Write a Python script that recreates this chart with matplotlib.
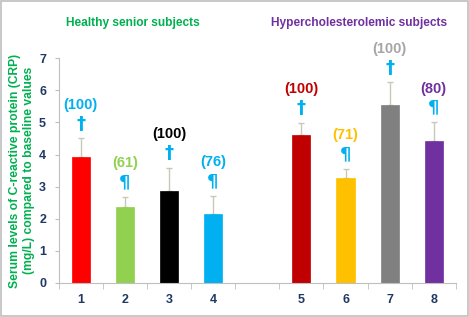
import matplotlib
matplotlib.use("Agg")
import matplotlib.pyplot as plt
from matplotlib.patches import Rectangle
import numpy as np

plt.rcParams['font.family'] = ['Liberation Sans', 'DejaVu Sans']

categories = ["1", "2", "3", "4", "5", "6", "7", "8"]
positions = [0, 1, 2, 3, 5, 6, 7, 8]
values = [3.93, 2.37, 2.87, 2.16, 4.62, 3.28, 5.53, 4.41]
errors = [0.57, 0.31, 0.72, 0.55, 0.37, 0.28, 0.72, 0.60]
bar_colors = ["#FF0000", "#92D050", "#000000", "#00B0F0",
              "#C00000", "#FFC000", "#808080", "#7030A0"]
pct_labels = ["(100)", "(61)", "(100)", "(76)", "(100)", "(71)", "(100)", "(80)"]
pct_colors = ["#00B0F0", "#92D050", "#000000", "#00B0F0",
              "#C00000", "#FFC000", "#A6A6A6", "#7030A0"]
symbols = ["†", "¶", "†", "¶", "†", "¶", "†", "¶"]
group_titles = ["Healthy senior subjects", "Hypercholesterolemic subjects"]

fig = plt.figure(figsize=(4.69, 3.17), dpi=100)
ax = fig.add_axes([0.125, 0.108, 0.847, 0.708])

ax.bar(positions, values, width=0.41, color=bar_colors,
       edgecolor=bar_colors, linewidth=0.5, zorder=2)
ax.errorbar(positions, values, yerr=[np.zeros(len(values)), errors], fmt='none',
            ecolor="#C8C8B8", elinewidth=1.0, capsize=2.5, capthick=1.0, zorder=1)

for x, v, e, lab, lc, s in zip(positions, values, errors, pct_labels, pct_colors, symbols):
    top = v + e
    ax.annotate(s, (x, top), xytext=(0, 4), textcoords='offset points',
                ha='center', va='bottom', color="#00B0F0", fontsize=13, fontweight='bold',
                family=['DejaVu Sans'])
    ax.annotate(lab, (x, top), xytext=(0, 19), textcoords='offset points',
                ha='center', va='bottom', color=lc, fontsize=10.5, fontweight='bold')

ax.set_xlim(-0.5, 8.5)
ax.set_ylim(0, 7)
ax.set_yticks(range(0, 8))
ax.set_xticks(positions)
ax.set_xticklabels(categories)
ax.set_xticks(np.arange(-0.5, 9, 1), minor=True)
ax.tick_params(axis='x', which='major', length=0, pad=8)
ax.tick_params(axis='x', which='minor', length=4, color="#BFBFBF", direction='out')
ax.tick_params(axis='y', length=3, color="#BFBFBF", pad=6)
for lbl in ax.get_xticklabels() + ax.get_yticklabels():
    lbl.set_color("#1F3864")
    lbl.set_fontweight('bold')
    lbl.set_fontsize(9)

for sp in ['top', 'right']:
    ax.spines[sp].set_visible(False)
for sp in ['left', 'bottom']:
    ax.spines[sp].set_color("#BFBFBF")
    ax.spines[sp].set_linewidth(0.8)

ax.set_ylabel("Serum levels of C-reactive protein (CRP)\n(mg/L) compared to baseline values",
              color="#00B050", fontsize=8.7, fontweight='bold', labelpad=3)

fig.text(133 / 469, 1 - 23 / 317, group_titles[0], color="#00B050", fontsize=8.6,
         fontweight='bold', ha='center', va='center')
fig.text(359 / 469, 1 - 23 / 317, group_titles[1], color="#7030A0", fontsize=8.6,
         fontweight='bold', ha='center', va='center')

fig.patches.append(Rectangle((0.002, 0.003), 0.995, 0.994, transform=fig.transFigure,
                             fill=False, edgecolor="#BFBFBF", linewidth=1.2))

fig.savefig("out.png", dpi=100)
